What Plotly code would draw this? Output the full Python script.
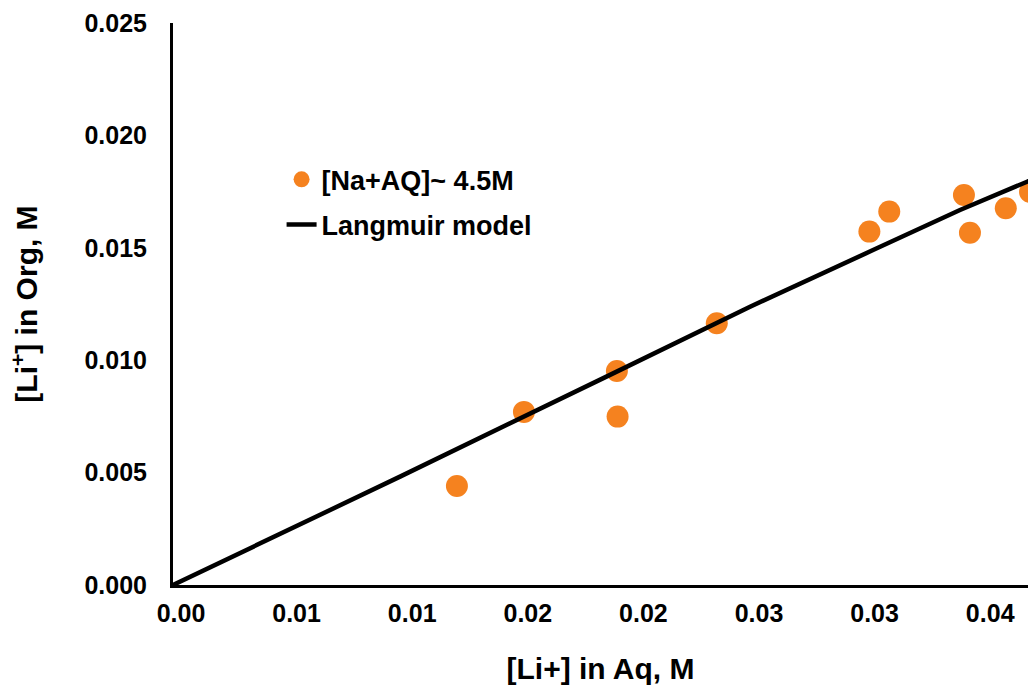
import plotly.graph_objects as go

# Data
aq_li = [0.01228, 0.01518, 0.01920, 0.01923, 0.02352, 0.03012, 0.03098, 0.03421, 0.03447, 0.03602, 0.03707]
org_li = [0.00440, 0.00770, 0.00952, 0.00749, 0.01164, 0.01572, 0.01661, 0.01735, 0.01567, 0.01676, 0.01748]

model_x = [0.0, 0.00982, 0.01877, 0.02496, 0.03028, 0.03404, 0.03694, 0.03772]
model_y = [0.0, 0.00482, 0.00928, 0.01238, 0.01490, 0.01668, 0.01794, 0.01828]

x_tickvals = [0.0, 0.005, 0.010, 0.015, 0.020, 0.025, 0.030, 0.035]
x_ticktext = ["0.00", "0.01", "0.01", "0.02", "0.02", "0.03", "0.03", "0.04"]
y_tickvals = [0.0, 0.005, 0.010, 0.015, 0.020, 0.025]
y_ticktext = ["0.000", "0.005", "0.010", "0.015", "0.020", "0.025"]

series_name = "[Na+AQ]~ 4.5M"
model_name = "Langmuir model"

FONT = "Liberation Sans, Arial, sans-serif"

fig = go.Figure()
fig.add_trace(go.Scatter(
    x=aq_li, y=org_li, mode="markers", name=series_name, legendgroup="a",
    marker=dict(color="#F5821F", size=22, line=dict(width=0)),
))
fig.add_trace(go.Scatter(
    x=model_x, y=model_y, mode="lines", name=model_name, legendgroup="b",
    line=dict(color="black", width=4.5),
))

fig.update_layout(
    width=1028, height=686,
    margin=dict(l=173, r=0, t=23, b=101),
    paper_bgcolor="white", plot_bgcolor="white",
    font=dict(family=FONT, color="black", weight="bold"),
    showlegend=True,
    legend=dict(
        x=0.127, y=0.681, xanchor="left", yanchor="middle",
        bgcolor="rgba(0,0,0,0)", font=dict(size=27, family=FONT, weight="bold"),
        tracegroupgap=7, traceorder="grouped",
    ),
    xaxis=dict(
        range=[0, 0.036981], showgrid=False, zeroline=False, automargin=False,
        showline=True, linecolor="black", linewidth=3,
        tickvals=x_tickvals, ticktext=x_ticktext, ticks="",
        tickfont=dict(size=25, family=FONT, weight="bold"),
        ticklabelstandoff=4, ticklabelshift=8,
        title=dict(text="[Li+] in Aq, M", font=dict(size=30, family=FONT, weight="bold"), standoff=32),
    ),
    yaxis=dict(
        range=[0, 0.025], showgrid=False, zeroline=False, automargin=True,
        showline=True, linecolor="black", linewidth=3,
        tickvals=y_tickvals, ticktext=y_ticktext, ticks="",
        tickfont=dict(size=25, family=FONT, weight="bold"),
        ticklabelstandoff=18,
        title=dict(text="[Li<sup>+</sup>] in Org, M", font=dict(size=30, family=FONT, weight="bold"), standoff=38),
    ),
)

fig.write_html("out.html", config={"displayModeBar": False},
               post_script="document.body.style.margin='0';document.body.style.overflow='hidden';")
